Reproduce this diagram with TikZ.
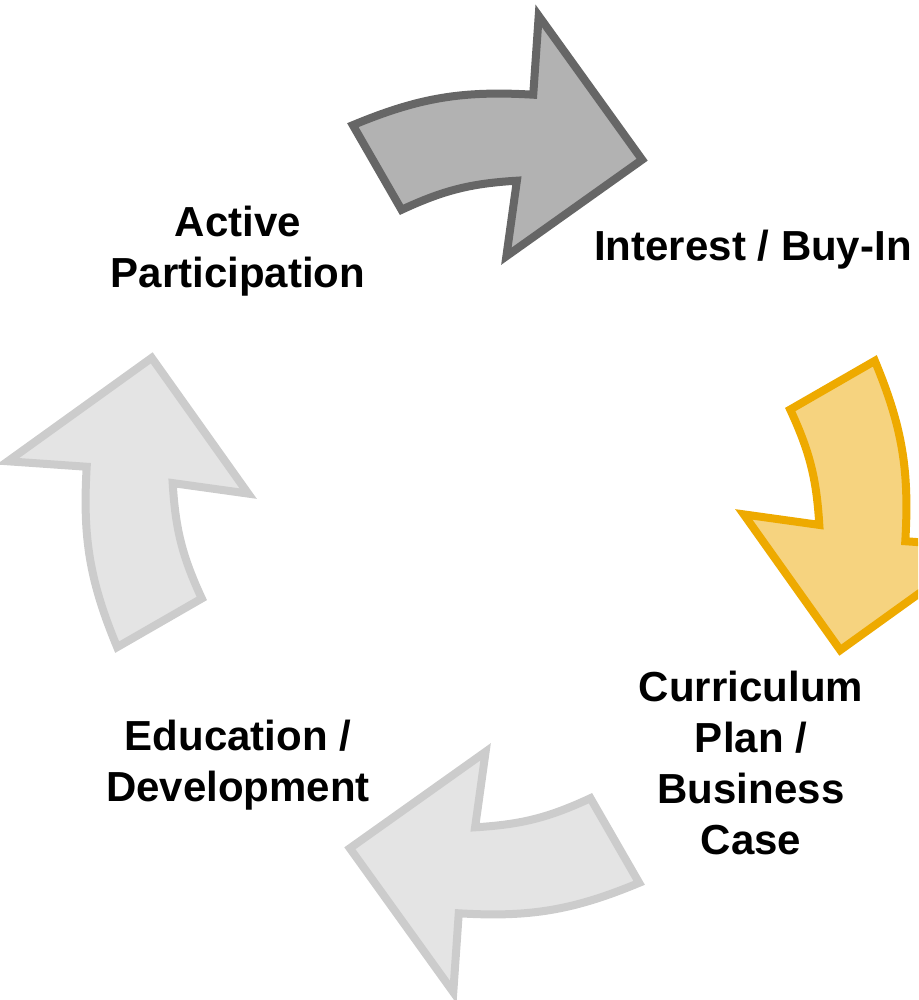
\documentclass[tikz,border=0pt]{standalone}
\usepackage{fontspec}
\setmainfont{Liberation Sans}

\definecolor{darkfill}{HTML}{B2B2B2}
\definecolor{darkline}{HTML}{666666}
\definecolor{goldfill}{HTML}{F6D37F}
\definecolor{goldline}{HTML}{EEAA00}
\definecolor{lightfill}{HTML}{E4E4E4}
\definecolor{lightline}{HTML}{CCCCCC}

\tikzset{
  darkarrow/.style={draw=darkline, fill=darkfill, line width=4pt},
  goldarrow/.style={draw=goldline, fill=goldfill, line width=4pt},
  lightarrow/.style={draw=lightline, fill=lightfill, line width=4pt},
  stage/.style={font=\bfseries\fontsize{21}{25.5}\selectfont, align=center}
}

\begin{document}
\begin{tikzpicture}[x=0.5pt,y=0.5pt]
    \useasboundingbox (-496,-496) rectangle (422,504);
    \clip (-496,-496) rectangle (422,504);
    % the four curved arrows of the cycle
    \foreach \rot/\sty in {0/darkarrow, -90/goldarrow, -180/lightarrow, -270/lightarrow} {
      \draw[\sty, rotate=\rot]
        (110.7:405) to[bend left=13] (84.8:411)
        -- (85:490) -- (67:374) -- (87.6:248) -- (86.3:324)
        to[bend right=10.7] (107.8:309)
        -- cycle;
    }
    % stage labels
    \node[stage] (active) at (-258,253) {Active\\Participation};
    \node[stage] (interest) at (257,254) {Interest / Buy-In};
    \node[stage] (curriculum) at (255,-259) {Curriculum\\Plan /\\Business\\Case};
    \node[stage] (education) at (-258,-261) {Education /\\Development};
\end{tikzpicture}
\end{document}
